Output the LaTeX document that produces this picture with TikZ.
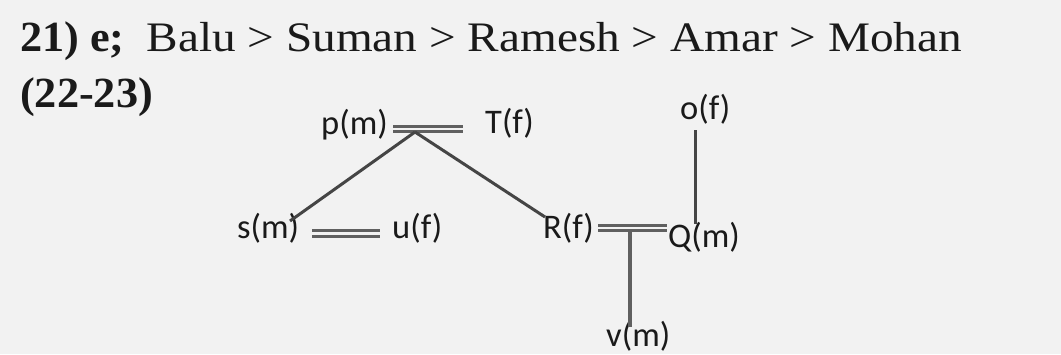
\documentclass[tikz,border=0pt]{standalone}
\usepackage{fontspec}
\setmainfont{Liberation Serif}[FakeStretch=1.125]
\newfontfamily\hbold{Liberation Serif}[FakeStretch=1.03]
\newfontfamily\labfont{Carlito}
\definecolor{bg}{HTML}{F2F2F2}
\definecolor{ink}{HTML}{1A1A1A}
\definecolor{lineg}{HTML}{454545}
\definecolor{dblg}{HTML}{606060}
\tikzset{
  head/.style={anchor=base west, inner sep=0pt, text=ink, font=\fontsize{42}{42}\selectfont},
  lab/.style={anchor=base west, inner sep=0pt, text=ink, font=\labfont\fontsize{34.5}{34.5}\selectfont},
  link/.style={draw=lineg, line width=3pt},
  dbl/.style={draw=dblg, line width=3.2pt, double=bg, double distance=2.4pt},
}
\begin{document}
\begin{tikzpicture}[x=1pt,y=-1pt]
\fill[bg] (0,0) rectangle (1061,354);
\useasboundingbox (0,0) rectangle (1061,354);
\node[head] (h1) at (20,51) {{\hbold\bfseries\fontsize{43}{43}\selectfont 21) e;}\hspace{22pt}Balu > Suman > Ramesh > Amar > Mohan};
\node[head] (h2) at (20,107) {{\hbold\bfseries\fontsize{43}{43}\selectfont (22-23)}};

\node[lab] (p) at (321,134) {p(m)};
\node[lab] (T) at (485,133) {T(f)};
\node[lab] (o) at (680,119) {o(f)};
\node[lab] (s) at (237,238) {s(m)};
\node[lab] (u) at (392,238) {u(f)};
\node[lab] (R) at (543,238) {R(f)};
\node[lab] (Q) at (668,247) {Q(m)};
\node[lab] (v) at (606,346) {v(m)};

\coordinate (pT1) at (393,129);
\coordinate (pT2) at (463,129);
\coordinate (apex) at (415,132);
\coordinate (sEnd) at (290,221);
\coordinate (REnd) at (545,217);
\coordinate (su1) at (312,233.5);
\coordinate (su2) at (380,233.5);
\coordinate (RQ1) at (598,228);
\coordinate (RQ2) at (667,228);
\coordinate (vTop) at (630,230);
\coordinate (vBot) at (630,327);
\coordinate (oBot) at (695,130);
\coordinate (QTop) at (695,224);

\draw[dbl] (pT1) -- (pT2);
\draw[link] (apex) -- (sEnd);
\draw[link] (apex) -- (REnd);
\draw[dbl] (su1) -- (su2);
\draw[dbl] (RQ1) -- (RQ2);
\draw[link, draw=dblg, line width=3.4pt] (vTop) -- (vBot);
\draw[link] (oBot) -- (QTop);
\end{tikzpicture}
\end{document}
